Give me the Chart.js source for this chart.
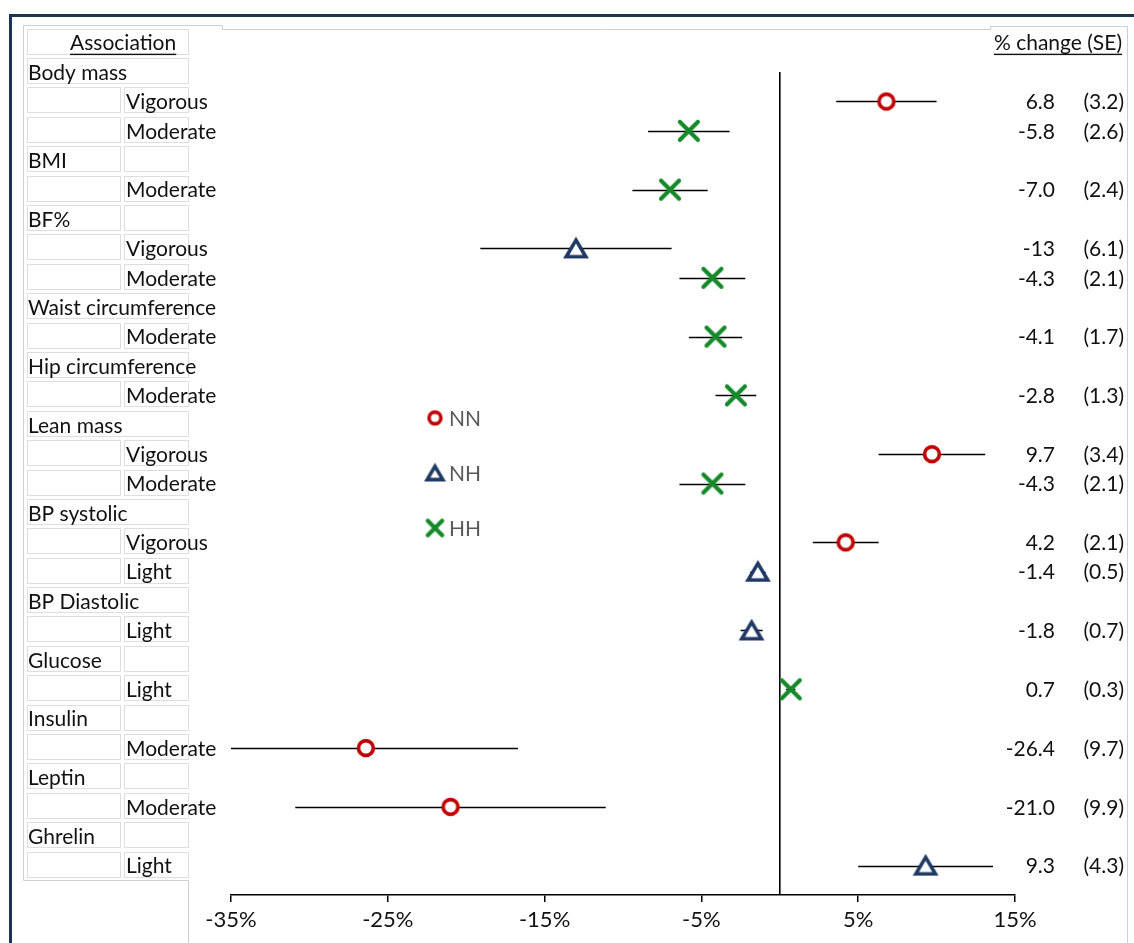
<!DOCTYPE html>
<html><head><meta charset="utf-8">
<script src="https://cdn.jsdelivr.net/npm/chart.js@4.4.1/dist/chart.umd.min.js"></script>
<style>
html,body{margin:0;padding:0;background:#fff;overflow:hidden}
#wrap{position:relative;width:1134px;height:943px}
#c{position:absolute;left:0;top:0}
.fT{position:absolute;left:9px;top:14px;width:1125px;height:3px;background:#1d3650}
.fL{position:absolute;left:9px;top:14px;width:3px;height:929px;background:#1d3650}
</style></head>
<body><div id="wrap"><canvas id="c" width="1134" height="943"></canvas><div class="fT"></div><div class="fL"></div></div>
<script>
// ---- data ----
const outcomes = ["Body mass","BMI","BF%","Waist circumference","Hip circumference","Lean mass","BP systolic","BP Diastolic","Glucose","Insulin","Leptin","Ghrelin"];
const outcomeSplitCell = [false,true,true,false,false,false,false,false,true,true,true,true];
const intensities = ["Vigorous","Moderate","Moderate","Vigorous","Moderate","Moderate","Moderate","Vigorous","Moderate","Vigorous","Light","Light","Light","Moderate","Moderate","Light"];
const outcomeOfEstimate = [0,0,1,2,2,3,4,5,5,6,6,7,8,9,10,11];
const groups = ["NN","HH","HH","NH","HH","HH","HH","NN","HH","NN","NH","NH","HH","NN","NN","NH"];
const estimates = [6.8,-5.8,-7.0,-13,-4.3,-4.1,-2.8,9.7,-4.3,4.2,-1.4,-1.8,0.7,-26.4,-21.0,9.3];
const seValues = [3.2,2.6,2.4,6.1,2.1,1.7,1.3,3.4,2.1,2.1,0.5,0.7,0.3,9.7,9.9,4.3];
const estimateLabels = ["6.8","-5.8","-7.0","-13","-4.3","-4.1","-2.8","9.7","-4.3","4.2","-1.4","-1.8","0.7","-26.4","-21.0","9.3"];
const seLabels = ["(3.2)","(2.6)","(2.4)","(6.1)","(2.1)","(1.7)","(1.3)","(3.4)","(2.1)","(2.1)","(0.5)","(0.7)","(0.3)","(9.7)","(9.9)","(4.3)"];
const xTicks = [-35,-25,-15,-5,5,15];
const legendGroups = ["NN","NH","HH"];
const headerLeft = "Association";
const headerRight = "% change (SE)";

// ---- build rows ----
const rows = [{type:"header"}];
const estRow = [];
outcomes.forEach((o,k)=>{
  rows.push({type:"outcome",label:o,split:outcomeSplitCell[k]});
  outcomeOfEstimate.forEach((oi,j)=>{ if(oi===k){ estRow[j]=rows.length; rows.push({type:"sub",label:intensities[j],est:j}); } });
});

const FONT = "Lato";
const TXT = "#111";
const colors = {NN:"#C00000",NH:"#1F3864",HH:"#15892a"};

function markerCanvas(g, scale, lwScale){
  const s = scale||1, lw = lwScale||1;
  const c = document.createElement("canvas");
  const n = Math.ceil(28*s); c.width=n; c.height=n;
  const x = c.getContext("2d"); const m=n/2;
  x.strokeStyle = colors[g]; x.fillStyle="#fff";
  if(g==="NN"){ x.lineWidth=3.6*s*lw; x.beginPath(); x.arc(m,m,7.4*s,0,Math.PI*2); x.fill(); x.stroke(); }
  else if(g==="NH"){ x.lineWidth=3.6*s*lw; x.lineJoin="miter"; x.beginPath();
    x.moveTo(m,m-8.3*s); x.lineTo(m+9.8*s,m+8.3*s); x.lineTo(m-9.8*s,m+8.3*s); x.closePath(); x.fill(); x.stroke(); }
  else { x.lineWidth=4.2*s*lw; x.lineCap="round"; x.beginPath();
    x.moveTo(m-9*s,m-9*s); x.lineTo(m+9*s,m+9*s); x.moveTo(m+9*s,m-9*s); x.lineTo(m-9*s,m+9*s); x.stroke(); }
  return c;
}

const datasets = [];
// zero reference line
datasets.push({type:"line",label:"zero",data:[{x:0,y:1},{x:0,y:rows.length}],borderColor:"#000",borderWidth:1.6,pointRadius:0,order:3});
legendGroups.forEach(g=>{
  const data=[];
  estimates.forEach((v,j)=>{ if(groups[j]===g) data.push({x:v,y:estRow[j]}); });
  datasets.push({type:"scatter",label:g,data,pointStyle:markerCanvas(g,1),pointRadius:11,order:1});
});

const errorBars = {
  id:"errorBars",
  beforeDatasetsDraw(chart){
    const xs=chart.scales.x, ys=chart.scales.y, ctx=chart.ctx;
    ctx.save(); ctx.strokeStyle="#000"; ctx.lineWidth=1.5;
    estimates.forEach((v,j)=>{
      const lo=Math.max(v-seValues[j],xs.min), hi=Math.min(v+seValues[j],xs.max);
      const y=Math.round(ys.getPixelForValue(estRow[j]))+0.5;
      ctx.beginPath(); ctx.moveTo(xs.getPixelForValue(lo),y); ctx.lineTo(xs.getPixelForValue(hi),y); ctx.stroke();
    });
    ctx.restore();
  }
};

const table = {
  id:"table",
  beforeDraw(chart){
    const ctx=chart.ctx, ys=chart.scales.y;
    ctx.save();
    ctx.strokeStyle="#cfcfcf"; ctx.lineWidth=1;
    ctx.beginPath();
    ctx.moveTo(23.5,880.5); ctx.lineTo(23.5,25.5); ctx.lineTo(222.5,25.5); ctx.lineTo(222.5,29.5);
    ctx.lineTo(990.5,29.5); ctx.lineTo(990.5,26.5); ctx.lineTo(1127.5,26.5); ctx.lineTo(1127.5,943);
    ctx.moveTo(23.5,880.5); ctx.lineTo(188.5,880.5); ctx.lineTo(188.5,943);
    ctx.stroke();
    ctx.strokeStyle="#dedede";
    const cell=(x0,x1,yc)=>{ ctx.strokeRect(x0+0.5,Math.round(yc-14)+0.5,x1-x0,25); };
    ctx.font="21px "+FONT; ctx.textBaseline="middle"; ctx.fillStyle=TXT;
    rows.forEach((r,i)=>{
      const yc=ys.getPixelForValue(i);
      if(r.type==="header"){ cell(27,188,yc); }
      else if(r.type==="outcome"){ if(r.split){cell(27,120,yc);cell(124,188,yc);} else cell(27,188,yc); }
      else { cell(27,120,yc); cell(124,188,yc); }
    });
    rows.forEach((r,i)=>{
      const yc=ys.getPixelForValue(i)+1;
      ctx.textAlign="left";
      if(r.type==="header"){
        ctx.fillText(headerLeft,70,yc);
        const w=ctx.measureText(headerLeft).width;
        ctx.fillRect(70,yc+10,w,1.4);
        ctx.textAlign="right"; ctx.fillText(headerRight,1122,yc);
        const w2=ctx.measureText(headerRight).width;
        ctx.fillRect(1122-w2,yc+10,w2,1.4);
      } else if(r.type==="outcome"){ ctx.fillText(r.label,28,yc); }
      else {
        ctx.fillText(r.label,126,yc);
        ctx.textAlign="right";
        ctx.fillText(estimateLabels[r.est],1055,yc);
        ctx.fillText(seLabels[r.est],1124,yc);
      }
    });
    ctx.restore();
  },
  afterDraw(chart){
    const ctx=chart.ctx;
    ctx.save(); ctx.font="21px "+FONT; ctx.textBaseline="middle"; ctx.fillStyle="#595959"; ctx.textAlign="left";
    const ly=[418,473,528];
    legendGroups.forEach((g,k)=>{
      const im=markerCanvas(g,0.8,1.25);
      ctx.drawImage(im,435-im.width/2,ly[k]-im.height/2);
      ctx.fillText(g,449,ly[k]+1);
    });
    ctx.restore();
  }
};

new Chart(document.getElementById("c"),{
  data:{datasets},
  options:{
    responsive:false, animation:false,
    layout:{padding:{left:231,right:119,top:28,bottom:0}},
    plugins:{legend:{display:false},tooltip:{enabled:false}},
    scales:{
      x:{type:"linear",min:xTicks[0],max:xTicks[xTicks.length-1],
        afterBuildTicks:s=>{s.ticks=xTicks.map(v=>({value:v}));},
        afterFit:s=>{s.height=48;},
        grid:{display:true,drawOnChartArea:false,drawTicks:true,tickLength:7,color:"#000",lineWidth:1.5},
        border:{display:true,color:"#000",width:1.5},
        ticks:{callback:v=>v+"%",font:{family:FONT,size:22},color:TXT,padding:5,maxRotation:0}
      },
      y:{type:"linear",min:-0.5,max:rows.length,reverse:true,display:false}
    }
  },
  plugins:[errorBars,table]
});
</script>
</body></html>
